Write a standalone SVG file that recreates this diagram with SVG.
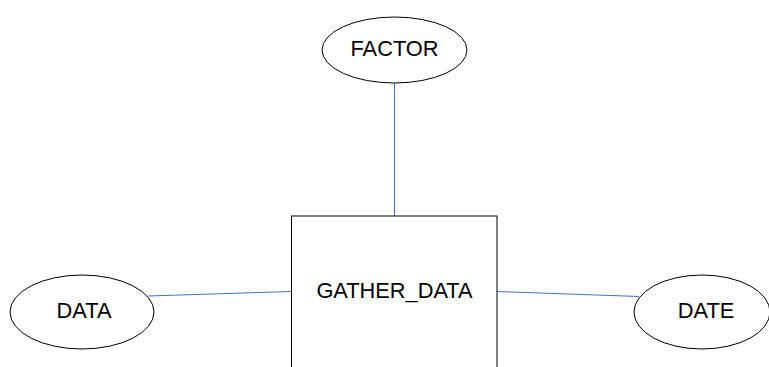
<svg xmlns="http://www.w3.org/2000/svg" width="769" height="367" viewBox="0 0 769 367">
<style>
.n{fill:#fff;stroke:#000;stroke-width:1}
.t{font-family:"Liberation Sans",Arial,sans-serif;font-size:21.8px;fill:#000;text-anchor:middle}
.c{stroke:#4472C4;stroke-width:1;fill:none}
</style>
<rect width="769" height="367" fill="#fff"/>
<g id="connectors">
<line class="c" x1="394.5" y1="83" x2="394.5" y2="216"/>
<line class="c" x1="148" y1="296" x2="291" y2="291.5"/>
<line class="c" x1="497" y1="291.5" x2="639" y2="296.5"/>
</g>
<g id="factor">
<ellipse class="n" cx="394.5" cy="50" rx="72.5" ry="33"/>
<text class="t" x="394.5" y="55.5">FACTOR</text>
</g>
<g id="gather_data">
<rect class="n" x="291.5" y="216" width="205.5" height="160"/>
<text class="t" x="394.5" y="298">GATHER_DATA</text>
</g>
<g id="data">
<ellipse class="n" cx="82" cy="312" rx="72" ry="37"/>
<text class="t" x="84" y="317.5">DATA</text>
</g>
<g id="date">
<ellipse class="n" cx="702" cy="312" rx="68" ry="37"/>
<text class="t" x="706" y="317.5">DATE</text>
</g>
</svg>
